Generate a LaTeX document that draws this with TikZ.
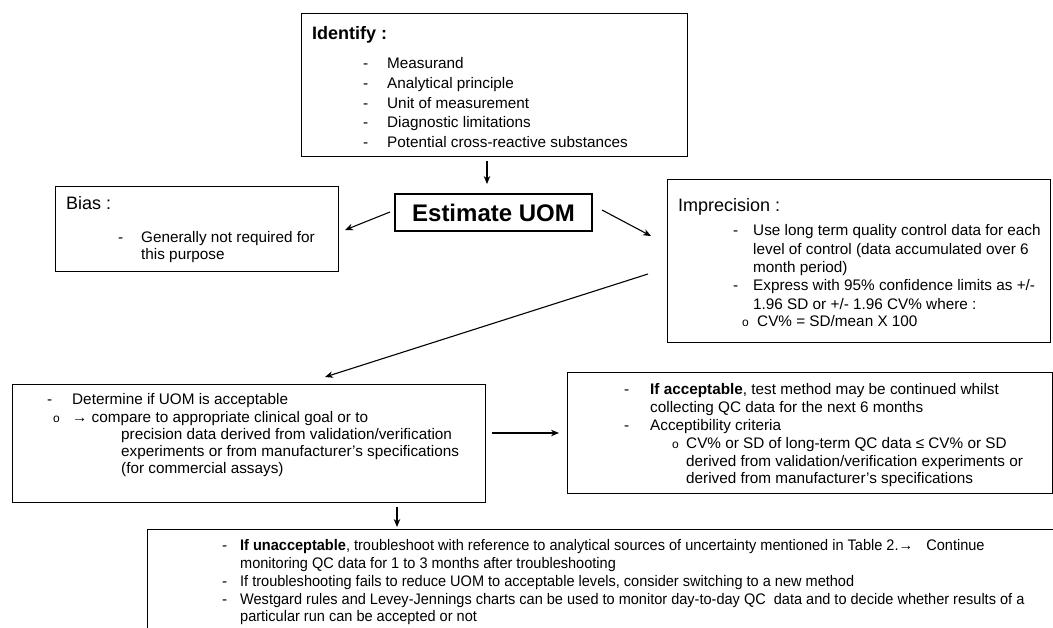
\documentclass[tikz,border=0pt]{standalone}
\usepackage{fontspec}
\usepackage{graphicx}
\setmainfont{Liberation Sans}
\usetikzlibrary{arrows.meta}
\begin{document}
\begin{tikzpicture}[x=1pt,y=-1pt,
  box/.style={draw, line width=1.1pt, inner sep=0pt, anchor=north west},
  txt/.style={anchor=base west, inner sep=0pt, font=\fontsize{15.3}{18}\selectfont},
  hd/.style={anchor=base west, inner sep=0pt, font=\fontsize{18}{21}\selectfont},
  bul/.style={anchor=base west, inner sep=0pt, font=\fontsize{12}{14}\selectfont},
  arr/.style={line width=1.1pt, -{Stealth[length=8pt,width=6.5pt]}}]
\useasboundingbox (0,0) rectangle (1053,627);
\clip (0,0) rectangle (1053,627);
\fill[white] (0,0) rectangle (1053,627);

% boxes
\node[box, minimum width=386pt, minimum height=143pt] (idbox) at (301,13) {};
\node[draw, line width=1.1pt, minimum width=197pt, minimum height=37pt, inner sep=0pt,
      font=\bfseries\fontsize{24}{28}\selectfont] (est) at (493.5,212.5) {Estimate UOM};
\node[box, minimum width=283pt, minimum height=85pt] (bias) at (55,186) {};
\node[box, minimum width=383pt, minimum height=163pt] (imp) at (667,179) {};
\node[box, minimum width=473pt, minimum height=118pt] (det) at (12,384) {};
\node[box, minimum width=485pt, minimum height=121pt] (acc) at (567,372) {};
\node[box, minimum width=1000pt, minimum height=200pt] (bot) at (147,529) {};

% Identify text
\node[hd, font=\bfseries\fontsize{18}{21}\selectfont] (idh) at (312,39) {Identify :};
\node[txt] (id1d) at (363,68) {-};  \node[txt] (id1) at (387,68) {Measurand};
\node[txt] (id2d) at (363,88) {-};  \node[txt] (id2) at (387,88) {Analytical principle};
\node[txt] (id3d) at (363,108) {-}; \node[txt] (id3) at (387,108) {Unit of measurement};
\node[txt] (id4d) at (363,127) {-}; \node[txt] (id4) at (387,127) {Diagnostic limitations};
\node[txt] (id5d) at (363,147) {-}; \node[txt] (id5) at (387,147) {Potential cross-reactive substances};

% Bias text
\node[hd] (bh) at (66,209) {Bias :};
\node[txt] (b1d) at (118,242) {-}; \node[txt] (b1) at (141,242) {Generally not required for};
\node[txt] (b2) at (141,259) {this purpose};

% Imprecision text
\node[hd] (ih) at (678,211) {Imprecision :};
\node[txt] (i1d) at (733,235) {-}; \node[txt] (i1) at (753,235) {Use long term quality control data for each};
\node[txt] (i2) at (753,254) {level of control (data accumulated over 6};
\node[txt] (i3) at (753,272) {month period)};
\node[txt] (i4d) at (733,290) {-}; \node[txt] (i4) at (753,290) {Express with 95\% confidence limits as +/-};
\node[txt] (i5) at (753,309) {1.96 SD or +/- 1.96 CV\% where :};
\node[bul] (i6o) at (742,326) {o}; \node[txt] (i6) at (757,326) {CV\% = SD/mean X 100};

% Determine text
\node[txt] (d1d) at (47,404) {-}; \node[txt] (d1) at (72,404) {Determine if UOM is acceptable};
\node[bul] (d2o) at (53,422) {o}; \node[txt] (d2) at (72,422) {→ compare to appropriate clinical goal or to};
\node[txt] (d3) at (121,439) {precision data derived from validation/verification};
\node[txt] (d4) at (121,456) {experiments or from manufacturer’s specifications};
\node[txt] (d5) at (121,473) {(for commercial assays)};

% Acceptable text
\node[txt] (a1d) at (624,394) {-}; \node[txt] (a1) at (650,394) {\textbf{If acceptable}, test method may be continued whilst};
\node[txt] (a2) at (650,412) {collecting QC data for the next 6 months};
\node[txt] (a3d) at (624,430) {-}; \node[txt] (a3) at (650,430) {Acceptibility criteria};
\node[bul] (a4o) at (672,448) {o}; \node[txt] (a4) at (686,448) {CV\% or SD of long-term QC data ≤ CV\% or SD};
\node[txt] (a5) at (686,466) {derived from validation/verification experiments or};
\node[txt] (a6) at (686,483) {derived from manufacturer’s specifications};

% Bottom text
\node[txt] (u1d) at (222,550) {-}; \node[txt] (u1) at (240,550) {\scalebox{0.95}[1]{\textbf{If unacceptable}, troubleshoot with reference to analytical sources of uncertainty mentioned in Table 2.→\hspace{14pt}Continue}};
\node[txt] (u2) at (240,568) {\scalebox{0.95}[1]{monitoring QC data for 1 to 3 months after troubleshooting}};
\node[txt] (u3d) at (222,586) {-}; \node[txt] (u3) at (240,586) {\scalebox{0.95}[1]{If troubleshooting fails to reduce UOM to acceptable levels, consider switching to a new method}};
\node[txt] (u4d) at (222,604) {-}; \node[txt] (u4) at (240,604) {\scalebox{0.95}[1]{Westgard rules and Levey-Jennings charts can be used to monitor day-to-day QC\ \ data and to decide whether results of a}};
\node[txt] (u5) at (240,621) {\scalebox{0.95}[1]{particular run can be accepted or not}};

% arrow end points
\coordinate (p1s) at (487,161); \coordinate (p1e) at (487,184);
\coordinate (p2s) at (390,212); \coordinate (p2e) at (345,230);
\coordinate (p3s) at (602,210); \coordinate (p3e) at (651,236);
\coordinate (p4s) at (648,274); \coordinate (p4e) at (325,377);
\coordinate (p5s) at (492,433); \coordinate (p5e) at (559,433);
\coordinate (p6s) at (397,507); \coordinate (p6e) at (397,527);

\draw[arr] (p1s) -- (p1e);
\draw[arr] (p2s) -- (p2e);
\draw[arr] (p3s) -- (p3e);
\draw[arr] (p4s) -- (p4e);
\draw[arr] (p5s) -- (p5e);
\draw[arr] (p6s) -- (p6e);
\end{tikzpicture}
\end{document}
